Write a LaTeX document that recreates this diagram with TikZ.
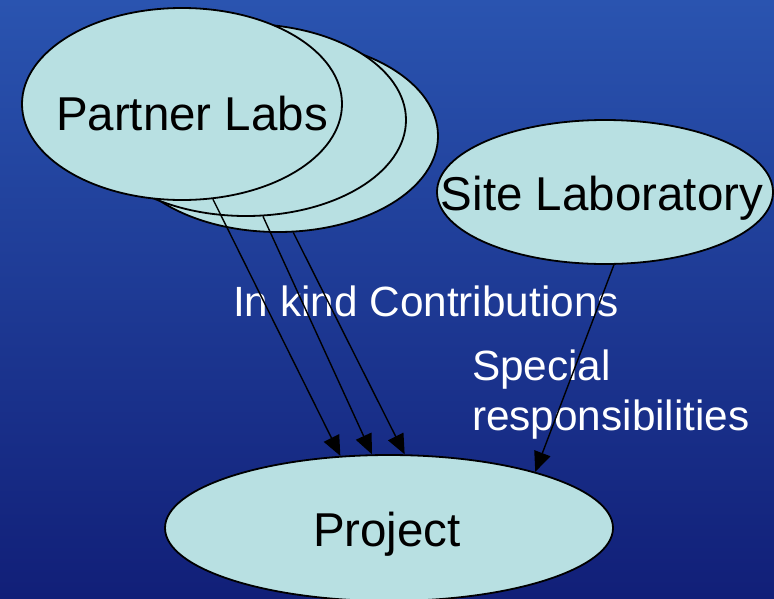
\documentclass[tikz,border=0pt]{standalone}
\usepackage{fontspec}
\setmainfont{Liberation Sans}
\usetikzlibrary{shapes.geometric,arrows.meta}
\definecolor{bgtop}{RGB}{42,84,176}
\definecolor{bgbot}{RGB}{17,31,120}
\definecolor{blob}{RGB}{184,224,226}
\tikzset{
  blobnode/.style={ellipse, draw=black, line width=1.8pt, fill=blob, inner sep=0pt},
  labnode/.style={blobnode, minimum width=320pt, minimum height=192pt},
  nodetext/.style={anchor=base, text=black, font=\fontsize{47.5}{57}\selectfont, inner sep=0pt},
  flowlabel/.style={anchor=base west, text=white, font=\fontsize{42.3}{50}\selectfont, inner sep=0pt},
  flow/.style={draw=black, line width=1.4pt, -{Triangle[length=20pt,width=17pt]}},
}
\begin{document}
\begin{tikzpicture}[x=1pt,y=-1pt]
\useasboundingbox (0,0) rectangle (774,598);
% background
\shade[top color=bgtop, bottom color=bgbot] (0,0) rectangle (774,598);

% stacked partner labs
\node[labnode] (back) at (278,136) {};
\node[labnode] (middle) at (246,120) {};
\node[labnode] (front) at (182,104) {};
\node[nodetext] (fronttext) at (192,130) {Partner Labs};

% site laboratory
\node[blobnode, minimum width=336pt, minimum height=144pt] (site) at (605,192) {};
\node[nodetext] (sitetext) at (602,210) {Site Laboratory};

% project
\node[blobnode, minimum width=448pt, minimum height=146pt] (proj) at (389,528) {};
\node[nodetext] (projtext) at (387,546) {Project};

% connector labels
\node[flowlabel] (inkind) at (233,316) {In kind Contributions};
\node[flowlabel] (special) at (472,380) {Special};
\node[flowlabel] (resp) at (472,430) {responsibilities};

% contributions
\draw[flow] (front.-72) -- (proj.124.6);
\draw[flow] (middle.-80.6) -- (proj.103.5);
\draw[flow] (back.-81.1) -- (proj.78.8);
\draw[flow] (site.-83.7) -- (proj.21.4);
\end{tikzpicture}
\end{document}
